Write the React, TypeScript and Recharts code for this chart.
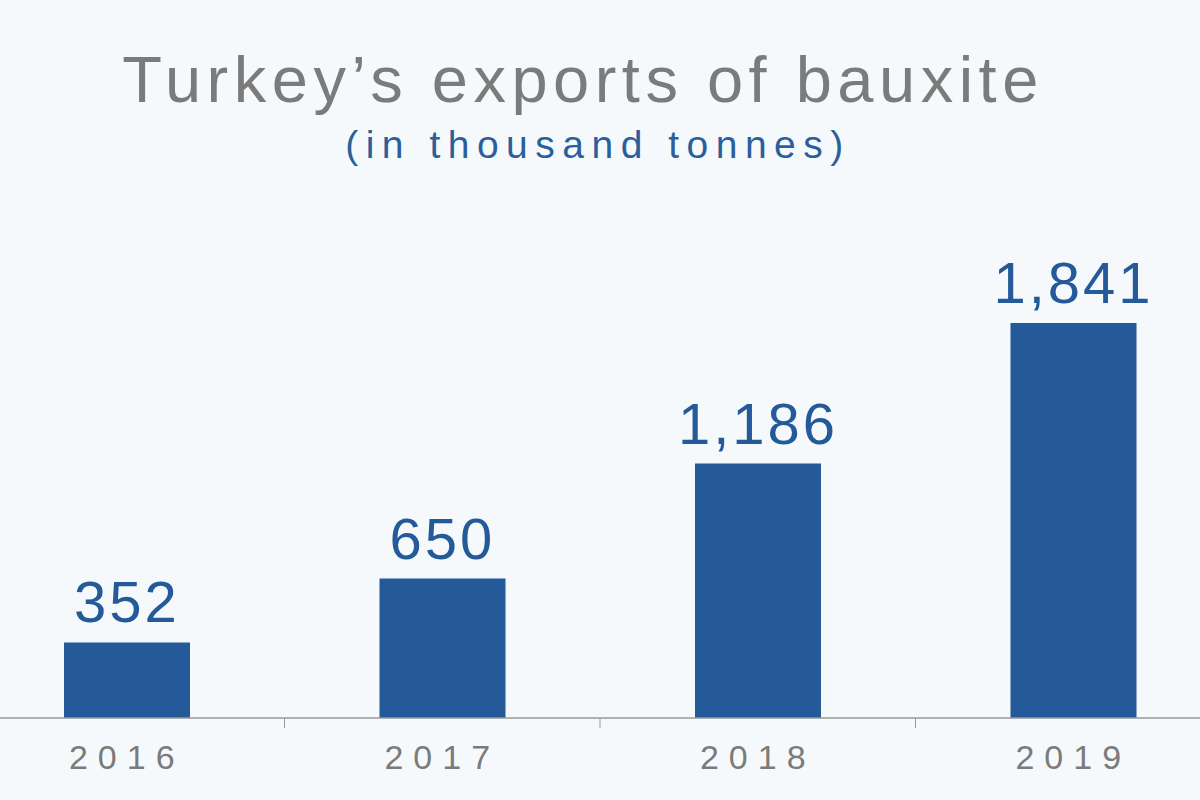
import React from 'react'
import { BarChart, Bar, XAxis, YAxis, LabelList } from 'recharts'

const years = ['2016', '2017', '2018', '2019']
const exportsKt = [352, 650, 1186, 1841]
const valueLabels = ['352', '650', '1,186', '1,841']

const data = years.map((year, i) => ({ year, value: exportsKt[i], label: valueLabels[i] }))

const BLUE = '#245a99'
const GREY = '#7b7b7b'
const FONT = 'Liberation Sans, Arial, sans-serif'

// year label, plus the small mark between this year and the previous one
function YearTick({ x, y, payload, index }: any) {
  const half = payload.offset ?? 0
  return (
    <g>
      {index > 0 && half > 0 && (
        <line x1={x - half} x2={x - half} y1={y} y2={y + 10} stroke="#999999" strokeWidth={1} />
      )}
      <text
        x={x}
        y={y + 51}
        textAnchor="middle"
        fontFamily={FONT}
        fontSize={34}
        letterSpacing={10}
        fill={GREY}
      >
        {payload.value}
      </text>
    </g>
  )
}

function ValueLabel({ x, y, width, value }: any) {
  return (
    <text
      x={x + width / 2}
      y={y - 20}
      textAnchor="middle"
      fontFamily={FONT}
      fontSize={58}
      letterSpacing={3}
      fill={BLUE}
    >
      {value}
    </text>
  )
}

export default function App() {
  return (
    <div
      style={{
        position: 'fixed',
        top: 0,
        left: 0,
        width: 1200,
        height: 800,
        overflow: 'hidden',
        background: '#f5f9fc',
      }}
    >
      <div style={{ position: 'absolute', left: -31, top: 0 }}>
        <BarChart width={1262} height={800} data={data} margin={{ top: 289, right: 0, bottom: 0, left: 0 }}>
          <XAxis
            dataKey="year"
            height={82}
            axisLine={{ stroke: '#999999', strokeWidth: 1.5 }}
            tickLine={false}
            tickSize={0}
            tickMargin={0}
            tick={<YearTick />}
            interval={0}
          />
          <YAxis hide domain={[0, 2000]} />
          <Bar dataKey="value" fill={BLUE} barSize={126} isAnimationActive={false}>
            <LabelList dataKey="label" content={<ValueLabel />} />
          </Bar>
        </BarChart>
      </div>
      <svg width={1200} height={800} style={{ position: 'absolute', left: 0, top: 0, pointerEvents: 'none' }}>
        <text x={583} y={102} textAnchor="middle" fontFamily={FONT} fontSize={65} letterSpacing={5.5} fill={GREY}>
          Turkey’s exports of bauxite
        </text>
        <text x={598} y={158} textAnchor="middle" fontFamily={FONT} fontSize={39} letterSpacing={7.5} fill="#2b5f9c">
          (in thousand tonnes)
        </text>
      </svg>
    </div>
  )
}
